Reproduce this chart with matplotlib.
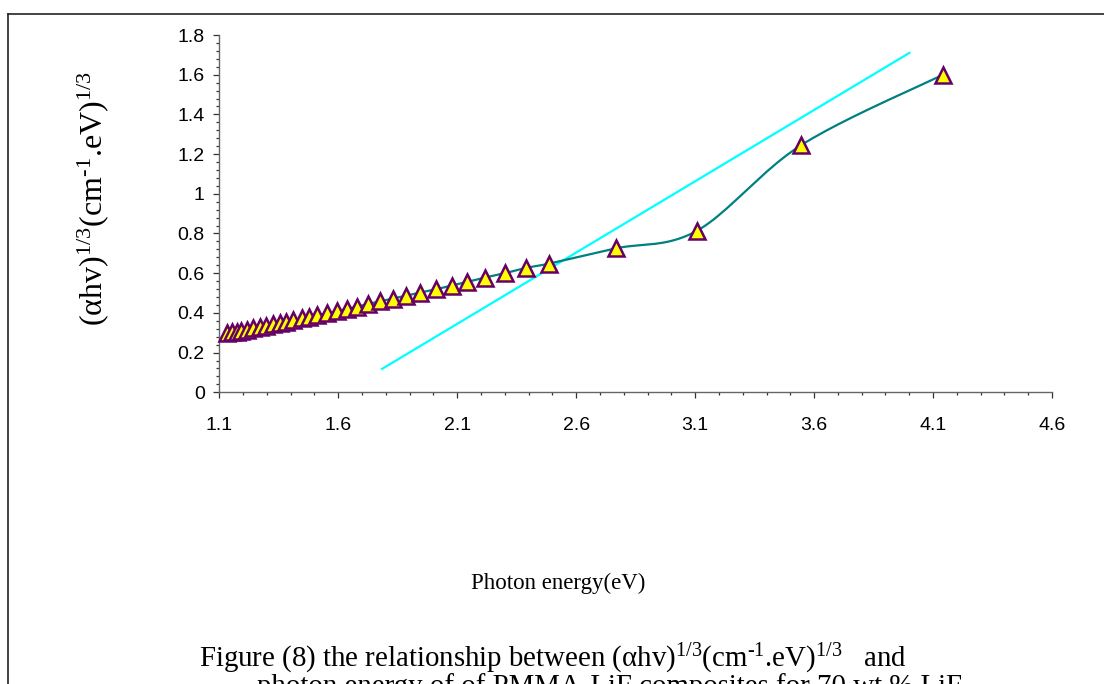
import numpy as np
import matplotlib
matplotlib.use("Agg")
import matplotlib.pyplot as plt
from matplotlib.ticker import MultipleLocator, FixedLocator
from matplotlib.lines import Line2D

plt.rcParams['mathtext.fontset'] = 'custom'
plt.rcParams['mathtext.rm'] = 'Liberation Serif'
plt.rcParams['mathtext.it'] = 'Liberation Serif:italic'
plt.rcParams['mathtext.bf'] = 'Liberation Serif:bold'

# ---- data ----
energy = [1.132, 1.153, 1.174, 1.191, 1.216, 1.241, 1.271, 1.296, 1.325, 1.355,
          1.381, 1.410, 1.448, 1.477, 1.511, 1.553, 1.595, 1.637, 1.679, 1.725,
          1.775, 1.830, 1.885, 1.943, 2.010, 2.078, 2.140, 2.217, 2.300, 2.390,
          2.485, 2.766, 3.108, 3.547, 4.142]
alpha_hv_13 = [0.300, 0.302, 0.306, 0.310, 0.316, 0.322, 0.329, 0.335, 0.342, 0.350,
               0.356, 0.363, 0.372, 0.380, 0.389, 0.398, 0.409, 0.421, 0.432, 0.445,
               0.458, 0.472, 0.486, 0.502, 0.519, 0.538, 0.556, 0.578, 0.600, 0.627,
               0.648, 0.725, 0.814, 1.246, 1.600]
fit_energy = [1.78, 4.005]
fit_value = [0.115, 1.713]

x_ticks = [1.1, 1.6, 2.1, 2.6, 3.1, 3.6, 4.1, 4.6]
x_ticklabels = ['1.1', '1.6', '2.1', '2.6', '3.1', '3.6', '4.1', '4.6']
y_ticks = [0, 0.2, 0.4, 0.6, 0.8, 1.0, 1.2, 1.4, 1.6, 1.8]
y_ticklabels = ['0', '0.2', '0.4', '0.6', '0.8', '1', '1.2', '1.4', '1.6', '1.8']


def smooth_curve(xs, ys, sx, sy, n=24):
    """Excel-like smoothed line (Catmull-Rom Bezier) computed in display-scaled space."""
    P = np.column_stack([np.asarray(xs) * sx, np.asarray(ys) * sy])
    out = []
    m = len(P)
    for i in range(m - 1):
        p0 = P[i - 1] if i > 0 else P[i]
        p1 = P[i]
        p2 = P[i + 1]
        p3 = P[i + 2] if i + 2 < m else P[i + 1]
        c1 = p1 + (p2 - p0) / 6.0
        c2 = p2 - (p3 - p1) / 6.0
        t = np.linspace(0, 1, n)[:, None]
        seg = ((1 - t) ** 3) * p1 + 3 * ((1 - t) ** 2) * t * c1 + 3 * (1 - t) * t ** 2 * c2 + t ** 3 * p2
        out.append(seg if i == 0 else seg[1:])
    out = np.vstack(out)
    return out[:, 0] / sx, out[:, 1] / sy


W, H = 1104, 684
fig = plt.figure(figsize=(W / 100, H / 100), dpi=100)

ax_left, ax_right = 219.3, 1052.0
ax_top, ax_bottom = 35.0, 392.3
ax = fig.add_axes([ax_left / W, 1 - ax_bottom / H, (ax_right - ax_left) / W, (ax_bottom - ax_top) / H])
ax.set_xlim(1.1, 4.6)
ax.set_ylim(0, 1.8)

sx = (ax_right - ax_left) / 3.5
sy = (ax_bottom - ax_top) / 1.8
cx, cy = smooth_curve(energy, alpha_hv_13, sx, sy)

ax.plot(fit_energy, fit_value, color='#00FFFF', lw=1.6, zorder=2, solid_capstyle='butt')
ax.plot(cx, cy, color='#008080', lw=1.6, zorder=3)
ax.plot(energy, alpha_hv_13, linestyle='none', marker='^', markersize=11,
        markerfacecolor='#FFFF00', markeredgecolor='#660066', markeredgewidth=1.8,
        zorder=4, clip_on=False)

for s in ['top', 'right']:
    ax.spines[s].set_visible(False)
for s in ['left', 'bottom']:
    ax.spines[s].set_color('#666666')
    ax.spines[s].set_linewidth(1.0)

ax.xaxis.set_major_locator(FixedLocator(x_ticks))
ax.set_xticklabels(x_ticklabels)
ax.xaxis.set_minor_locator(MultipleLocator(0.1))
ax.yaxis.set_major_locator(FixedLocator(y_ticks))
ax.set_yticklabels(y_ticklabels)
ax.yaxis.set_minor_locator(MultipleLocator(0.04))

ax.tick_params(axis='both', which='major', direction='out', length=4.5, width=0.9,
               color='#333333', labelsize=14, labelcolor='black')
ax.tick_params(axis='both', which='minor', direction='out', length=2.3, width=0.9, color='#333333')
ax.tick_params(axis='x', which='major', pad=13)
ax.tick_params(axis='y', which='major', pad=6)
for lab in ax.get_xticklabels() + ax.get_yticklabels():
    lab.set_fontfamily('Liberation Sans')

unit = r'(αhv)$^{1/3}$(cm$^{\text{-}1}$.eV)$^{1/3}$'

# axis titles
fig.text(93 / W, 1 - 198 / H, unit, family='Liberation Serif',
         rotation=90, ha='center', va='center', fontsize=23, color='black')
fig.text(558 / W, 1 - 583 / H, 'Photon energy(eV)', family='Liberation Serif',
         ha='center', va='center', fontsize=16.5, color='black')

# caption (document text beneath the chart)
fig.text(199 / W, 1 - 667 / H,
         'Figure (8) the relationship between ' + unit + '   and',
         family='Liberation Serif', ha='left', va='baseline', fontsize=20.8, color='black')
fig.text(257 / W, 1 - 694 / H,
         'photon energy of of PMMA-LiF composites for 70 wt.% LiF',
         family='Liberation Serif', ha='left', va='baseline', fontsize=20.8, color='black')

# frame around the chart object
fig.add_artist(Line2D([8 / W, 1.0], [1 - 14 / H, 1 - 14 / H], transform=fig.transFigure,
                      color='#222222', lw=1.2))
fig.add_artist(Line2D([8 / W, 8 / W], [1 - 14 / H, 0.0], transform=fig.transFigure,
                      color='#222222', lw=1.2))

fig.savefig('out.png', dpi=100)
